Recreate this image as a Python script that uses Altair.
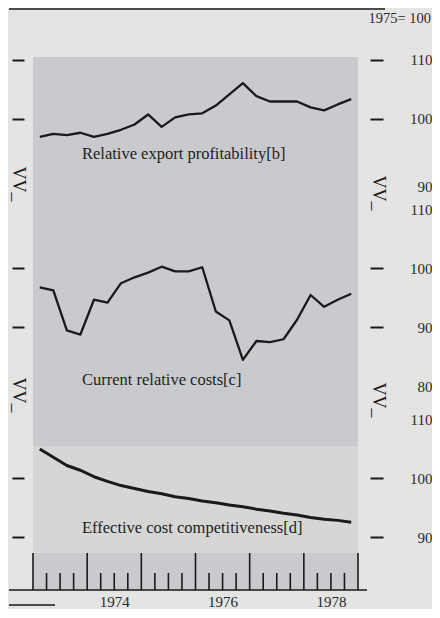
import altair as alt
import pandas as pd

# ---------------- data ----------------
quarters = [f"{y}Q{q}" for y in range(1973, 1979) for q in range(1, 5)]

export_profitability = [96.9, 97.4, 97.2, 97.6, 96.9, 97.4, 98.1, 99.0,
                        100.7, 98.6, 100.2, 100.7, 100.9, 102.2, 104.1, 106.0,
                        103.8, 102.9, 102.9, 102.9, 101.9, 101.4, 102.4, 103.3]
relative_costs = [96.8, 96.3, 89.5, 88.8, 94.7, 94.2, 97.5, 98.5,
                  99.3, 100.3, 99.5, 99.5, 100.2, 92.7, 91.2, 84.5,
                  87.7, 87.5, 88.0, 91.3, 95.5, 93.5, 94.7, 95.7]
cost_competitiveness = [105.0, 103.6, 102.2, 101.4, 100.3, 99.5, 98.8, 98.3,
                        97.8, 97.4, 96.9, 96.6, 96.2, 95.9, 95.5, 95.2,
                        94.8, 94.5, 94.1, 93.8, 93.4, 93.1, 92.9, 92.6]

series_names = ["Relative export profitability[b]",
                "Current relative costs[c]",
                "Effective cost competitiveness[d]"]
panel_ticks = [[110, 100, 90], [110, 100, 90, 80], [110, 100, 90]]
year_labels = ["1974", "1976", "1978"]
index_note = "1975= 100"

# ---------------- layout constants ----------------
W, H = 325, 533
PX_PER_UNIT = 5.9
U_MAX = H / PX_PER_UNIT
OFF = [-20.1, -45.5, -81.1]          # vertical stacking of the three broken panels
SW = [2.3, 2.3, 3.0]
FONT = "Liberation Serif"
INK = "#1a1a1a"
TXT = "#2a2a2a"

rows = []
for p, series in enumerate([export_profitability, relative_costs, cost_competitiveness]):
    for q, v in zip(quarters, series):
        year, qq = int(q[:4]), int(q[-1])
        rows.append({"t": year + (qq - 0.5) / 4, "v": v, "u": v + OFF[p],
                     "panel": series_names[p], "sw": SW[p]})
df = pd.DataFrame(rows)

tick_u, hidden = [], []
for p, vals in enumerate(panel_ticks):
    for j, v in enumerate(vals):
        u = round(v + OFF[p], 2)
        tick_u.append(u)
        if (j == 0 and p > 0) or (j == len(vals) - 1 and p < 2):
            hidden.append(u)
dash_u = [u for u in tick_u if u not in hidden]
test_hidden = " || ".join(f"abs(datum.value - {u}) < 0.05" for u in hidden)
p1_bottom = round(panel_ticks[0][-1] + OFF[0], 2)

label_expr = (f"datum.value > 67 ? format(datum.value + {-OFF[0]}, '.0f') : "
              f"datum.value > 32 ? format(datum.value + {-OFF[1]}, '.0f') : "
              f"format(datum.value + {-OFF[2]}, '.0f')")

x_scale = alt.Scale(domain=[1973, 1979], nice=False, zero=False)
y_scale = alt.Scale(domain=[0, U_MAX], nice=False, zero=False)

x_axis = alt.Axis(values=[int(y) + 0.5 for y in year_labels],
                  labelExpr="'' + floor(datum.value)", tickSize=0, domain=False,
                  grid=False, labelPadding=4, labelFont=FONT, labelFontSize=15,
                  labelColor=TXT, title=None)
X = alt.X("t:Q", scale=x_scale, axis=x_axis)

one = pd.DataFrame({"a": [0]})

# light band behind the third panel
band = alt.Chart(one).mark_rect(color="#d6d6d5").encode(
    x=alt.value(0), x2=alt.value(W), y=alt.value(389), y2=alt.value(496))

right_axis = alt.Axis(
    orient="right", values=tick_u, labelExpr=label_expr, tickSize=13, offset=12,
    labelPadding=49, labelAlign="right", labelBaseline="middle", domain=False,
    grid=False, title=None, tickColor=INK, tickWidth=2, labelFont=FONT,
    labelFontSize=15, labelColor=TXT,
    tickOpacity={"condition": {"test": test_hidden, "value": 0}, "value": 1},
    labelOffset={"condition": {"test": f"abs(datum.value - {p1_bottom}) < 0.05", "value": 9}, "value": 0},
)

lines = alt.Chart(df).mark_line(color=INK, strokeJoin="round").encode(
    x=X,
    y=alt.Y("u:Q", scale=y_scale, axis=right_axis),
    detail="panel:N",
    strokeWidth=alt.StrokeWidth("sw:Q", scale=None),
)

left_axis_layer = alt.Chart(df).mark_point(opacity=0).encode(
    x=X,
    y=alt.Y("u:Q", scale=y_scale,
            axis=alt.Axis(orient="left", values=dash_u, labels=False, tickSize=12,
                          offset=9, domain=False, grid=False, title=None,
                          tickColor=INK, tickWidth=2)),
)

ticks_df = pd.DataFrame({"t": [1973 + k / 4 for k in range(25)],
                         "tall": [k % 4 == 0 for k in range(25)]})
tall_ticks = alt.Chart(ticks_df).transform_filter("datum.tall").mark_rule(
    color=INK, strokeWidth=1.6).encode(x=X, y=alt.value(H), y2=alt.value(H - 37))
short_ticks = alt.Chart(ticks_df).transform_filter("!datum.tall").mark_rule(
    color=INK, strokeWidth=1.6).encode(x=X, y=alt.value(H), y2=alt.value(H - 17))

axis_line = alt.Chart(one).mark_rule(color=INK, strokeWidth=1.5).encode(
    x=alt.value(-24), x2=alt.value(W + 9), y=alt.value(H))
frag_line = alt.Chart(one).mark_rule(color=INK, strokeWidth=1.5).encode(
    x=alt.value(-24), x2=alt.value(22), y=alt.value(H + 15))
top_line = alt.Chart(one).mark_rule(color=INK, strokeWidth=1.5).encode(
    x=alt.value(-24), x2=alt.value(352), y=alt.value(-48))

note = alt.Chart(one).mark_text(font=FONT, fontSize=14.5, align="right",
                                baseline="middle", color=TXT).encode(
    x=alt.value(398), y=alt.value(-38), text=alt.value(index_note))

label_layers = []
for name, py in zip(series_names, [97, 323, 471]):
    label_layers.append(alt.Chart(one).mark_text(
        font=FONT, fontSize=16.5, align="left", baseline="middle", color="#222").encode(
        x=alt.value(49), y=alt.value(py), text=alt.value(name)))

zig_layers = []
for zx, zy in [(345, 136), (345, 343), (-15, 127), (-15, 338)]:
    zig_layers.append(alt.Chart(one).mark_text(
        font=FONT, fontSize=18, angle=90, align="center", baseline="middle",
        color=INK).encode(x=alt.value(zx), y=alt.value(zy), text=alt.value("VV_")))

chart = alt.layer(
    band, lines, left_axis_layer, tall_ticks, short_ticks, axis_line, frag_line,
    top_line, note, *label_layers, *zig_layers
).resolve_axis(y="independent").properties(
    width=W, height=H,
    padding={"left": 0, "top": 0, "right": 0, "bottom": 0},
    background="#e4e4e2",
).configure_view(fill="#c8cacd", stroke=None)

chart.save("out.html", embed_options={"renderer": "svg", "actions": False})
